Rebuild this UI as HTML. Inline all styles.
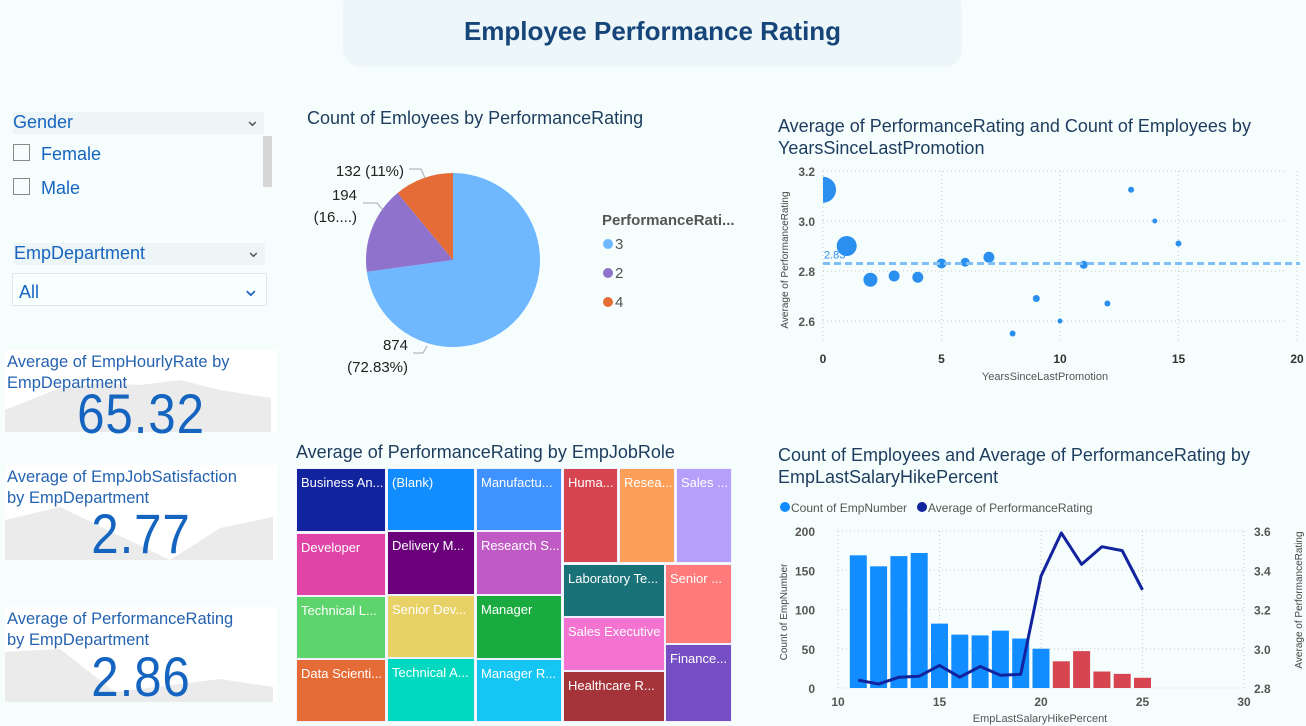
<!DOCTYPE html>
<html><head><meta charset="utf-8">
<style>
body{margin:0;width:1306px;height:726px;background:#f5fdfd;font-family:"Liberation Sans",sans-serif;position:relative;overflow:hidden}
.abs{position:absolute}
.t{color:#1d3c5e;font-size:18px}
.blue{color:#1565c0}
.card{position:absolute;background:#fff;overflow:visible}
.card .ti{position:absolute;left:2px;top:2px;font-size:16.5px;color:#2563b0;line-height:21px}
.card .v{position:absolute;width:100%;text-align:center;font-size:56px;line-height:56px;color:#1565c0;letter-spacing:1px;transform:scaleX(0.88)}
.tm{position:absolute;color:#fff;font-size:13px;box-sizing:border-box;padding:6px 0 0 4px;white-space:nowrap;overflow:hidden;border:1px solid #f0f0ff}
</style></head><body>
<div class="abs" style="left:343px;top:-10px;width:619px;height:77px;background:#edf6f8;border-radius:18px;"></div>
<div class="abs" style="left:343px;top:16px;width:619px;text-align:center;font-size:26px;font-weight:bold;color:#16457a">Employee Performance Rating</div>

<!-- slicers -->
<div class="abs" style="left:13px;top:112px;width:251px;height:22px;background:#eef5f6;font-size:18px;color:#1565c0">Gender<span style="position:absolute;right:4px;top:-2px;color:#555">&#8964;</span></div>
<div class="abs" style="left:263px;top:136px;width:9px;height:51px;background:#d6d6d6"></div>
<div class="abs" style="left:13px;top:144px;width:17px;height:17px;border:1px solid #8a8a8a;box-sizing:border-box"></div>
<div class="abs blue" style="left:41px;top:144px;font-size:18px">Female</div>
<div class="abs" style="left:13px;top:178px;width:17px;height:17px;border:1px solid #8a8a8a;box-sizing:border-box"></div>
<div class="abs blue" style="left:41px;top:178px;font-size:18px">Male</div>
<div class="abs" style="left:14px;top:243px;width:251px;height:22px;background:#eef5f6;font-size:18px;color:#1565c0">EmpDepartment<span style="position:absolute;right:4px;top:-2px;color:#555">&#8964;</span></div>
<div class="abs" style="left:12px;top:273px;width:255px;height:33px;border:1px solid #e2e8ea;box-sizing:border-box;background:#f8ffff;font-size:18px;color:#1565c0;padding:8px 0 0 6px">All<span style="position:absolute;right:6px;top:2px;color:#2a6ac0;font-size:22px">&#8964;</span></div>

<!-- KPI cards -->
<div class="card" style="left:5px;top:350px;width:272px;height:82px">
<svg class="abs" style="left:0;top:0" width="272" height="82"><polygon points="0,82 0,60 55,38 95,33 135,35 175,30 215,40 266,48 266,82" fill="#ebebeb"/></svg>
<div class="ti">Average of EmpHourlyRate by<br>EmpDepartment</div><div class="v" style="top:36px">65.32</div></div>
<div class="card" style="left:5px;top:465px;width:272px;height:95px">
<svg class="abs" style="left:0;top:0" width="272" height="95"><polygon points="0,95 0,55 55,42 165,95 215,63 268,52 268,95" fill="#ebebeb"/></svg>
<div class="ti">Average of EmpJobSatisfaction<br>by EmpDepartment</div><div class="v" style="top:41px">2.77</div></div>
<div class="card" style="left:5px;top:607px;width:272px;height:95px">
<svg class="abs" style="left:0;top:0" width="272" height="95"><polygon points="0,95 0,45 55,42 110,85 215,72 268,80 268,95" fill="#ebebeb"/></svg>
<div class="ti">Average of PerformanceRating<br>by EmpDepartment</div><div class="v" style="top:42px">2.86</div></div>

<!-- pie -->
<div class="abs t" style="left:307px;top:108px">Count of Emloyees by PerformanceRating</div>
<svg id="pie" class="abs" style="left:295px;top:140px" width="470" height="250"></svg>

<!-- scatter -->
<div class="abs t" style="left:778px;top:115px;line-height:22px">Average of PerformanceRating and Count of Employees by<br>YearsSinceLastPromotion</div>
<svg id="scatter" class="abs" style="left:770px;top:160px" width="536" height="230"></svg>

<!-- treemap -->
<div class="abs t" style="left:296px;top:442px">Average of PerformanceRating by EmpJobRole</div>
<div id="tree" class="abs" style="left:0;top:0"></div>

<!-- combo -->
<div class="abs t" style="left:778px;top:444px;line-height:22px">Count of Employees and Average of PerformanceRating by<br>EmpLastSalaryHikePercent</div>
<svg id="combo" class="abs" style="left:770px;top:490px" width="536" height="236"></svg>

<script>
const NS="http://www.w3.org/2000/svg";
function mk(p,tag,attrs,txt){const e=document.createElementNS(NS,tag);for(const k in attrs)e.setAttribute(k,attrs[k]);if(txt!==undefined)e.textContent=txt;p.appendChild(e);return e;}

// ---------- PIE ----------
const pieLabels=["3","2","4"];
const pieValues=[874,194,132];
const pieColors=["#6fb8ff","#8f72cc","#e66c37"];
(function(){
 const s=document.getElementById('pie');const cx=158,cy=120,r=87;
 const tot=pieValues.reduce((a,b)=>a+b,0);let a0=0;
 pieValues.forEach((v,i)=>{
  const a1=a0+v/tot*2*Math.PI;
  const p=(a)=>[cx+r*Math.sin(a),cy-r*Math.cos(a)];
  const [x0,y0]=p(a0),[x1,y1]=p(a1);
  const sl=mk(s,'path',{d:`M${cx},${cy}L${x0},${y0}A${r},${r} 0 ${a1-a0>Math.PI?1:0} 1 ${x1},${y1}Z`,fill:pieColors[i]});
  
  
  a0=a1;
 });
 const tx=(x,y,t,anchor)=>mk(s,'text',{x:x,y:y,'font-size':15,fill:'#222','text-anchor':anchor||'end'},t);
 tx(109,36,"132 (11%)");mk(s,'polyline',{points:"114,29 126,29 130,38",fill:'none',stroke:'#aaa'});
 tx(62,60,"194");tx(62,82,"(16....)");mk(s,'polyline',{points:"68,63 82,63 88,70",fill:'none',stroke:'#aaa'});
 tx(113,210,"874");tx(113,232,"(72.83%)");mk(s,'polyline',{points:"118,213 128,213 132,206",fill:'none',stroke:'#aaa'});
 mk(s,'text',{x:307,y:85,'font-size':15,'font-weight':'bold',fill:'#555'},"PerformanceRati...");
 pieLabels.forEach((l,i)=>{const y=104+i*29;
  const d=mk(s,'circle',{cx:313,cy:y,r:5,fill:pieColors[i]});
  
  
  mk(s,'text',{x:320,y:y+5,'font-size':15,fill:'#555'},l);});
})();

// ---------- SCATTER ----------
const scYears=[0,1,2,3,4,5,6,7,8,9,10,11,12,13,14,15];
const scRating=[3.125,2.90,2.765,2.78,2.775,2.83,2.835,2.855,2.55,2.69,2.60,2.825,2.67,3.125,3.0,2.91];
const scCount=[470,278,136,84,84,69,56,84,25,34,17,44,25,25,17,25];
const scXTicks=[0,5,10,15,20];
const scYTicks=[2.6,2.8,3.0,3.2];
const scAvg=2.83;
(function(){
 const s=document.getElementById('scatter');
 const X=v=>53+v*(474/20), Y=v=>11+(3.2-v)*250;
 scYTicks.forEach(t=>{mk(s,'line',{x1:53,x2:515,y1:Y(t),y2:Y(t),stroke:'#ccc','stroke-dasharray':'1,3'});
  mk(s,'text',{x:45,y:Y(t)+5,'font-size':12,fill:'#555','text-anchor':'end','font-weight':'bold'},t.toFixed(1));});
 scXTicks.forEach(t=>{mk(s,'line',{x1:X(t),x2:X(t),y1:11,y2:180,stroke:'#ccc','stroke-dasharray':'1,3'});
  mk(s,'text',{x:X(t),y:203,'font-size':12,fill:'#333','text-anchor':'middle','font-weight':'bold'},t);});
 mk(s,'text',{x:275,y:220,'font-size':11,fill:'#555','text-anchor':'middle'},"YearsSinceLastPromotion");
 mk(s,'text',{x:0,y:0,'font-size':10,fill:'#444','text-anchor':'middle',transform:'translate(18,100) rotate(-90)'},"Average of PerformanceRating");
 const cp=mk(s,'clipPath',{id:'sc'});mk(cp,'rect',{x:53,y:0,width:480,height:200});
 const g=mk(s,'g',{'clip-path':'url(#sc)'});
 scYears.forEach((x,i)=>{const c=mk(g,'circle',{cx:X(x),cy:Y(scRating[i]),r:0.6*Math.sqrt(scCount[i]),fill:'#2b8ff0'});
  
  });
 mk(s,'line',{x1:53,x2:530,y1:Y(scAvg),y2:Y(scAvg),stroke:'#80bff5','stroke-width':3,'stroke-dasharray':'7,4'});
 mk(s,'text',{x:54,y:Y(scAvg)-5,'font-size':11,fill:'#2b8ff0'},scAvg.toFixed(2));
})();

// ---------- TREEMAP ----------
const tmRoles=["Business An...","(Blank)","Manufactu...","Huma...","Resea...","Sales ...","Developer","Delivery M...","Research S...","Laboratory Te...","Senior ...","Technical L...","Senior Dev...","Manager","Sales Executive","Data Scienti...","Technical A...","Manager R...","Healthcare R...","Finance..."];
const tmColors=["#12239e","#118dff","#4092ff","#d64550","#fe9f59","#b4a0fb","#e044a7","#6b007b","#c05ac4","#197278","#ff7b7b","#5ed56c","#e8d166","#1aab40","#f472d0","#e66c37","#00d9c0","#15c6f4","#a4343a","#744ec2"];
const tmRects=[[296,468,90,64],[387,468,88,63],[476,468,86,63],[563,468,55,95],[619,468,56,95],[676,468,56,95],
[296,533,90,63],[387,531,88,64],[476,531,86,64],[563,564,102,53],[665,564,67,80],
[296,596,90,63],[387,595,88,63],[476,595,86,64],[563,617,102,54],
[296,659,90,63],[387,658,88,64],[476,659,86,63],[563,671,102,51],[665,644,67,78]];
(function(){const t=document.getElementById('tree');
 tmRoles.forEach((n,i)=>{const r=tmRects[i];const d=document.createElement('div');d.className='tm';
  d.style.cssText=`left:${r[0]}px;top:${r[1]}px;width:${r[2]}px;height:${r[3]}px;background:${tmColors[i]}`;
  d.textContent=n;
  
  
  t.appendChild(d);});})();

// ---------- COMBO ----------
const hikePct=[11,12,13,14,15,16,17,18,19,20,21,22,23,24,25];
const empCount=[169,155,168,172,82,68,67,73,63,50,34,47,21,18,13];
const avgRating=[2.84,2.82,2.855,2.86,2.915,2.855,2.91,2.865,2.87,3.37,3.59,3.43,3.52,3.50,3.30];
const cbXTicks=[10,15,20,25,30];
const cbLeftTicks=[0,50,100,150,200];
const cbRightTicks=[2.8,3.0,3.2,3.4,3.6];
(function(){
 const s=document.getElementById('combo');
 const X=v=>68+(v-10)*(406/20), YL=v=>198-v*(157/200), YR=v=>198-(v-2.8)*(157/0.8);
 mk(s,'circle',{cx:15,cy:17,r:5,fill:'#118dff'});mk(s,'text',{x:21,y:22,'font-size':12,fill:'#555'},"Count of EmpNumber");
 mk(s,'circle',{cx:152,cy:17,r:5,fill:'#12239e'});mk(s,'text',{x:158,y:22,'font-size':12,fill:'#555'},"Average of PerformanceRating");
 cbLeftTicks.forEach(t=>{mk(s,'line',{x1:68,x2:474,y1:YL(t),y2:YL(t),stroke:'#ccc','stroke-dasharray':'1,3'});
  mk(s,'text',{x:45,y:YL(t)+5,'font-size':12,fill:'#555','text-anchor':'end','font-weight':'bold'},t);});
 cbRightTicks.forEach(t=>mk(s,'text',{x:484,y:YR(t)+5,'font-size':12,fill:'#555','font-weight':'bold'},t.toFixed(1)));
 cbXTicks.forEach(t=>{mk(s,'line',{x1:X(t),x2:X(t),y1:41,y2:198,stroke:'#ccc','stroke-dasharray':'1,3'});
  mk(s,'text',{x:X(t),y:216,'font-size':12,fill:'#555','text-anchor':'middle','font-weight':'bold'},t);});
 mk(s,'text',{x:0,y:0,'font-size':10,fill:'#444','text-anchor':'middle',transform:'translate(17,122) rotate(-90)'},"Count of EmpNumber");
 mk(s,'text',{x:0,y:0,'font-size':10,fill:'#444','text-anchor':'middle',transform:'translate(532,110) rotate(-90)'},"Average of PerformanceRating");
 mk(s,'text',{x:270,y:232,'font-size':11,fill:'#555','text-anchor':'middle'},"EmpLastSalaryHikePercent");
 const bw=17;
 hikePct.forEach((x,i)=>{const b=mk(s,'rect',{x:X(x)-bw/2,y:YL(empCount[i]),width:bw,height:YL(0)-YL(empCount[i]),fill:x>20?'#d64550':'#118dff'});
  
  });
 const ln=mk(s,'polyline',{points:hikePct.map((x,i)=>X(x)+','+YR(avgRating[i])).join(' '),fill:'none',stroke:'#12239e','stroke-width':3,'stroke-linejoin':'round'});
 
 
})();
</script>
</body></html>
